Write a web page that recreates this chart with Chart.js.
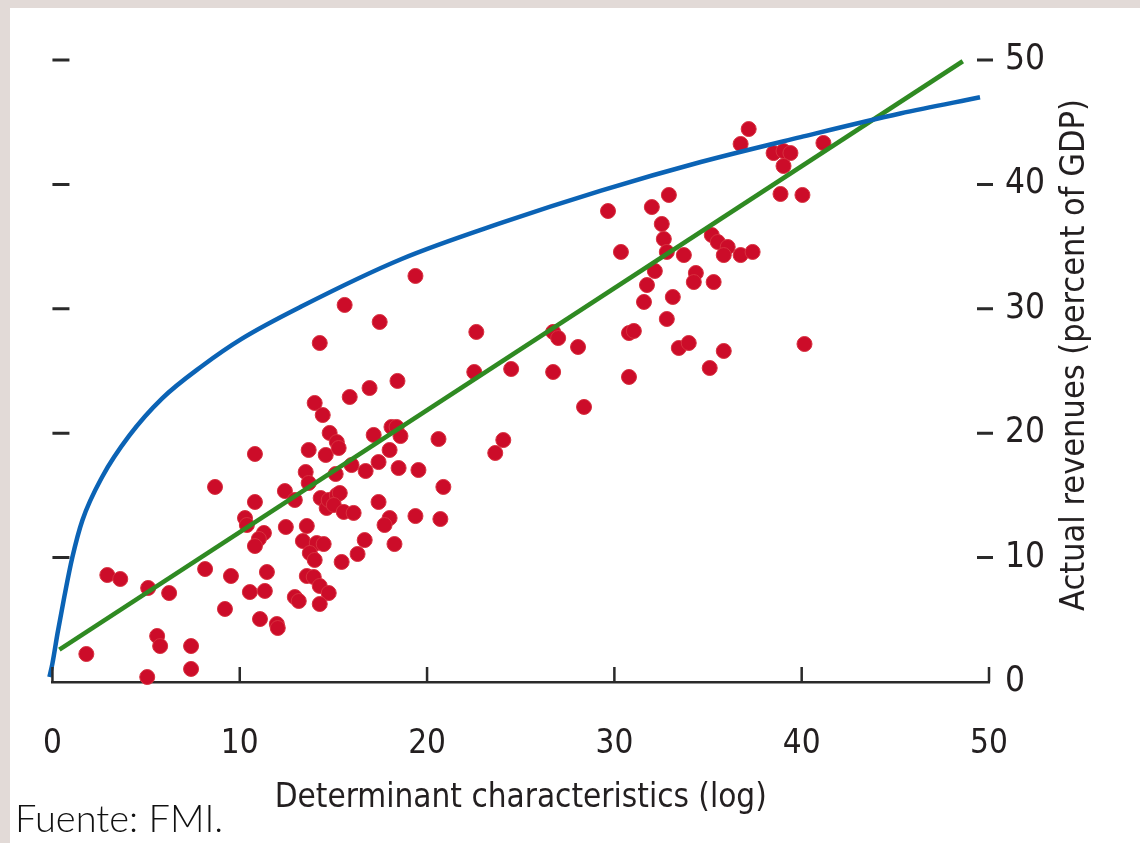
<!DOCTYPE html>
<html>
<head>
<meta charset="utf-8">
<script src="https://cdn.jsdelivr.net/npm/chart.js@4"></script>
<style>
    html, body { margin: 0; padding: 0; background: #ffffff; }
    #wrap { width: 1140px; height: 843px; position: relative; }
</style>
</head>
<body>
<div id="wrap"><canvas id="chart" width="1140" height="843"></canvas></div>
<script>
// country observations: [determinant characteristics, actual revenues]
const countryPoints = [
    [1.81, 2.25], [2.93, 8.60], [3.62, 8.28], [5.11, 7.56], [5.59, 3.70],
    [5.75, 2.89], [5.06, 0.40], [6.23, 7.15], [7.40, 2.89], [7.40, 1.05],
    [8.15, 9.08], [8.68, 15.68], [9.21, 5.87], [9.53, 8.52], [10.28, 13.18],
    [10.38, 12.62], [10.54, 7.23], [10.81, 18.33], [10.81, 14.47], [11.08, 5.06],
    [11.45, 8.84], [11.34, 7.32], [11.29, 11.98], [11.02, 11.50], [10.81, 10.93],
    [11.98, 4.66], [12.03, 4.34], [12.41, 15.35], [12.94, 14.63], [12.46, 12.46],
    [13.58, 12.54], [12.94, 6.83], [13.15, 6.51], [13.58, 8.52], [13.95, 8.44],
    [14.27, 7.72], [14.75, 7.15], [14.27, 6.27], [13.37, 11.33], [14.11, 11.17],
    [14.48, 11.09], [13.74, 10.37], [14.00, 9.81], [13.52, 16.88], [13.68, 16.00],
    [13.68, 18.65], [14.00, 22.43], [14.43, 21.46], [14.59, 18.25], [14.27, 27.25],
    [14.32, 14.79], [14.64, 13.99], [14.75, 14.63], [15.18, 15.03], [15.34, 15.19],
    [15.02, 14.23], [15.55, 13.67], [16.08, 13.59], [14.80, 20.02], [15.18, 19.29],
    [15.28, 18.81], [15.12, 16.72], [15.60, 30.31], [15.87, 22.91], [16.93, 23.63],
    [18.42, 24.20], [17.47, 28.94], [19.38, 32.64], [17.15, 19.86], [18.10, 20.50],
    [18.37, 20.50], [18.58, 19.77], [18.00, 18.65], [20.61, 19.53], [15.97, 17.44],
    [17.41, 17.68], [16.72, 16.96], [18.48, 17.20], [19.54, 17.04], [20.87, 15.68],
    [17.41, 14.47], [18.00, 13.18], [17.73, 12.62], [19.38, 13.34], [20.71, 13.10],
    [16.67, 11.41], [18.26, 11.09], [16.29, 10.29], [15.44, 9.65], [24.07, 19.45],
    [23.64, 18.41], [22.63, 28.14], [22.52, 24.92], [24.49, 25.16], [26.73, 28.14],
    [27.00, 27.65], [28.06, 26.93], [26.73, 24.92], [28.38, 22.11], [29.66, 37.86],
    [30.35, 34.57], [30.78, 28.05], [31.04, 28.22], [30.78, 24.52], [31.58, 30.55],
    [31.74, 31.91], [32.00, 38.18], [32.16, 33.04], [32.53, 36.82], [32.64, 35.61],
    [32.80, 34.57], [32.91, 39.15], [33.12, 30.95], [32.80, 29.18], [33.71, 34.32],
    [33.44, 26.85], [33.97, 27.25], [34.35, 32.88], [34.24, 32.15], [35.30, 32.15],
    [35.09, 25.24], [35.84, 26.61], [35.20, 35.93], [35.52, 35.37], [36.05, 34.97],
    [35.84, 34.32], [36.74, 34.32], [37.38, 34.57], [36.74, 43.25], [37.17, 44.45],
    [38.50, 42.52], [39.03, 42.68], [39.40, 42.52], [39.03, 41.48], [38.87, 39.23],
    [40.04, 39.15], [41.16, 43.33], [40.15, 27.17],
];

// frontier (blue)
const frontierPoints = [
    [-0.16, 0.4], [0, 1.5], [0.27, 3.9], [0.64, 6.9], [1.06, 10.0],
    [1.6, 13.0], [2.66, 16.5], [4.1, 19.8], [5.86, 22.8], [7.99, 25.4],
    [10.12, 27.6], [13.31, 30.2], [18.64, 34.0], [23.96, 36.9], [29.29, 39.5],
    [34.61, 41.8], [39.94, 43.8], [45.26, 45.7], [49.52, 47.0],
];

// fitted line (green)
const fitPoints = [[0.37, 2.6], [48.6, 49.9]];

const xTicks = [0, 10, 20, 30, 40, 50];
const yTicks = [0, 10, 20, 30, 40, 50];

const narrow = "'DejaVu Sans Condensed', 'DejaVu Sans', sans-serif";
const ink = '#231f20';

const toXY = arr => arr.map(p => ({ x: p[0], y: p[1] }));

const framePlugin = {
    id: 'frame',
    beforeDraw(chart) {
        const ctx = chart.ctx;
        ctx.save();
        ctx.fillStyle = '#e2dad7';
        ctx.fillRect(0, 0, chart.width, chart.height);
        ctx.fillStyle = '#ffffff';
        ctx.fillRect(10, 8, chart.width - 10, chart.height - 8);
        ctx.restore();
    },
};

const tickMarks = {
    id: 'tickMarks',
    afterDraw(chart) {
        const ctx = chart.ctx;
        const xs = chart.scales.x;
        const ys = chart.scales.y;
        const a = chart.chartArea;
        ctx.save();
        ctx.strokeStyle = '#2a2a2a';
        ctx.lineWidth = 2.5;
        ctx.beginPath();
        xTicks.forEach(v => {
            const px = xs.getPixelForValue(v);
            ctx.moveTo(px, a.bottom);
            ctx.lineTo(px, a.bottom - 15);
        });
        ctx.stroke();
        ctx.lineWidth = 3;
        ctx.beginPath();
        yTicks.forEach(v => {
            if (v === 0) return;
            const py = ys.getPixelForValue(v);
            ctx.moveTo(a.left, py);
            ctx.lineTo(a.left + 17, py);
            ctx.moveTo(a.right - 12, py);
            ctx.lineTo(a.right + 4, py);
        });
        ctx.stroke();

        // right axis title, reading bottom to top
        ctx.fillStyle = ink;
        ctx.font = '34px ' + narrow;
        ctx.textAlign = 'center';
        ctx.textBaseline = 'middle';
        ctx.translate(a.right + 86, (a.top + a.bottom) / 2 - 16);
        ctx.rotate(-Math.PI / 2);
        ctx.fillText('Actual revenues (percent of GDP)', 0, 0);
        ctx.restore();

        ctx.save();
        ctx.fillStyle = '#111111';
        ctx.font = '300 38px Lato, sans-serif';
        ctx.textAlign = 'left';
        ctx.textBaseline = 'alphabetic';
        ctx.fillText('Fuente: FMI.', 15, 832);
        ctx.restore();
    },
};

new Chart(document.getElementById('chart'), {
    type: 'scatter',
    data: {
        datasets: [
            {
                label: 'Frontier',
                data: toXY(frontierPoints),
                showLine: true,
                borderColor: '#0b63b5',
                borderWidth: 4.5,
                pointRadius: 0,
                cubicInterpolationMode: 'monotone',
                clip: false,
                order: 1,
            },
            {
                label: 'Fit',
                data: toXY(fitPoints),
                showLine: true,
                borderColor: '#2f8a22',
                borderWidth: 4.5,
                pointRadius: 0,
                clip: false,
                order: 1,
            },
            {
                label: 'Countries',
                data: toXY(countryPoints),
                backgroundColor: '#cc0c29',
                borderColor: '#d8303f',
                borderWidth: 1,
                pointRadius: 7.5,
                clip: false,
                order: 2,
            },
        ],
    },
    options: {
        responsive: false,
        animation: false,
        events: [],
        layout: { padding: { left: 50, top: 60, right: 0, bottom: 0 } },
        plugins: {
            legend: { display: false },
            tooltip: { enabled: false },
        },
        scales: {
            x: {
                type: 'linear',
                position: 'bottom',
                min: 0,
                max: 50,
                afterFit: scale => { scale.height = 161; },
                afterBuildTicks: scale => { scale.ticks = xTicks.map(v => ({ value: v })); },
                grid: { display: false, drawTicks: false },
                border: { display: true, color: '#2a2a2a', width: 2.5 },
                ticks: {
                    padding: 43,
                    color: ink,
                    font: { family: narrow, size: 33 },
                    maxRotation: 0,
                },
                title: {
                    display: true,
                    text: 'Determinant characteristics (log)',
                    color: ink,
                    font: { family: narrow, size: 33 },
                    padding: { top: 0, bottom: 25 },
                },
            },
            y: {
                type: 'linear',
                position: 'right',
                min: 0,
                max: 50,
                afterFit: scale => { scale.width = 151; },
                afterBuildTicks: scale => { scale.ticks = yTicks.map(v => ({ value: v })); },
                grid: { display: false, drawTicks: false },
                border: { display: false },
                ticks: {
                    padding: 16,
                    color: ink,
                    font: { family: narrow, size: 35 },
                },
            },
        },
    },
    plugins: [framePlugin, tickMarks],
});
</script>
</body>
</html>
